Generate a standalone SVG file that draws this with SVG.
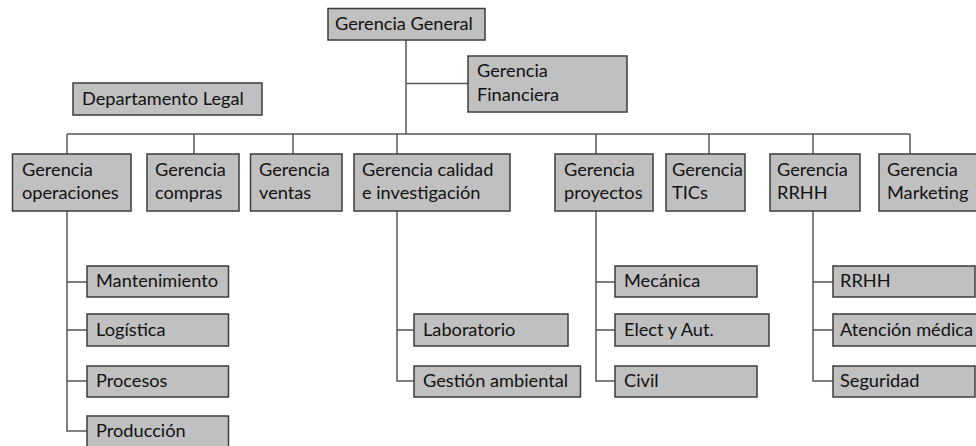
<svg xmlns="http://www.w3.org/2000/svg" width="976" height="446" viewBox="0 0 976 446">
<style>
.b{fill:#c0c0c0;stroke:#3c3c3c;stroke-width:1.5}
.t{font-family:Lato,"Open Sans","Liberation Sans",sans-serif;font-size:18.2px;fill:#111}
.c{stroke:#555;stroke-width:1.5;fill:none}
</style>
<rect width="976" height="446" fill="#fff"/>
<g id="connectors">
<path class="c" d="M406 40V134M406 83.5H468M67 134H910M67 134V154M194 134V154M293 134V154M397 134V154M596 134V154M709 134V154M813 134V154M910 134V154"/>
<path class="c" d="M67 211V431H87M67 282H87M67 330H87M67 381H87"/>
<path class="c" d="M397 211V381H414M397 330H414"/>
<path class="c" d="M596 211V381H615M596 282H615M596 330H615"/>
<path class="c" d="M813 211V381H833M813 282H833M813 330H833"/>
</g>
<g id="gerencia-general"><rect class="b" x="328" y="8.5" width="157" height="31.5"/><text class="t" x="335" y="30">Gerencia General</text></g>
<g id="gerencia-financiera"><rect class="b" x="468" y="56" width="159" height="56"/><text class="t" x="477" y="77">Gerencia</text><text class="t" x="477" y="101">Financiera</text></g>
<g id="departamento-legal"><rect class="b" x="73" y="83" width="189" height="32"/><text class="t" x="82" y="105">Departamento Legal</text></g>
<g id="gerencia-operaciones"><rect class="b" x="12.5" y="154" width="118.5" height="57"/><text class="t" x="22" y="176">Gerencia</text><text class="t" x="22" y="199">operaciones</text></g>
<g id="gerencia-compras"><rect class="b" x="147" y="154" width="92" height="57"/><text class="t" x="155" y="176">Gerencia</text><text class="t" x="155" y="199">compras</text></g>
<g id="gerencia-ventas"><rect class="b" x="250.5" y="154" width="91.5" height="57"/><text class="t" x="259" y="176">Gerencia</text><text class="t" x="259" y="199">ventas</text></g>
<g id="gerencia-calidad"><rect class="b" x="354" y="154" width="156" height="57"/><text class="t" x="362" y="176">Gerencia calidad</text><text class="t" x="362" y="199">e investigación</text></g>
<g id="gerencia-proyectos"><rect class="b" x="555" y="154" width="98" height="57"/><text class="t" x="564" y="176">Gerencia</text><text class="t" x="564" y="199">proyectos</text></g>
<g id="gerencia-tics"><rect class="b" x="666" y="154" width="79" height="57"/><text class="t" x="672" y="176">Gerencia</text><text class="t" x="672" y="199">TICs</text></g>
<g id="gerencia-rrhh"><rect class="b" x="770" y="154" width="90" height="57"/><text class="t" x="777" y="176">Gerencia</text><text class="t" x="777" y="199">RRHH</text></g>
<g id="gerencia-marketing"><rect class="b" x="879" y="154" width="102" height="57"/><text class="t" x="887" y="176">Gerencia</text><text class="t" x="887" y="199">Marketing</text></g>
<g id="mantenimiento"><rect class="b" x="87" y="266" width="141.5" height="31"/><text class="t" x="96" y="287">Mantenimiento</text></g>
<g id="logistica"><rect class="b" x="87" y="314" width="141.5" height="32"/><text class="t" x="96" y="336">Logística</text></g>
<g id="procesos"><rect class="b" x="87" y="366" width="141.5" height="31"/><text class="t" x="96" y="387">Procesos</text></g>
<g id="produccion"><rect class="b" x="87" y="416" width="141.5" height="32"/><text class="t" x="96" y="437">Producción</text></g>
<g id="laboratorio"><rect class="b" x="414" y="314" width="154" height="32"/><text class="t" x="423" y="336">Laboratorio</text></g>
<g id="gestion-ambiental"><rect class="b" x="414" y="366" width="166.5" height="31"/><text class="t" x="423" y="387">Gestión ambiental</text></g>
<g id="mecanica"><rect class="b" x="615" y="266" width="142" height="31"/><text class="t" x="624" y="287">Mecánica</text></g>
<g id="elect-aut"><rect class="b" x="615" y="314" width="154" height="32"/><text class="t" x="624" y="336">Elect y Aut.</text></g>
<g id="civil"><rect class="b" x="615" y="366" width="142" height="31"/><text class="t" x="624" y="387">Civil</text></g>
<g id="rrhh"><rect class="b" x="833" y="266" width="142" height="31"/><text class="t" x="840" y="287">RRHH</text></g>
<g id="atencion-medica"><rect class="b" x="833" y="314" width="150" height="32"/><text class="t" x="840" y="336">Atención médica</text></g>
<g id="seguridad"><rect class="b" x="833" y="366" width="142" height="31"/><text class="t" x="840" y="387">Seguridad</text></g>
</svg>
